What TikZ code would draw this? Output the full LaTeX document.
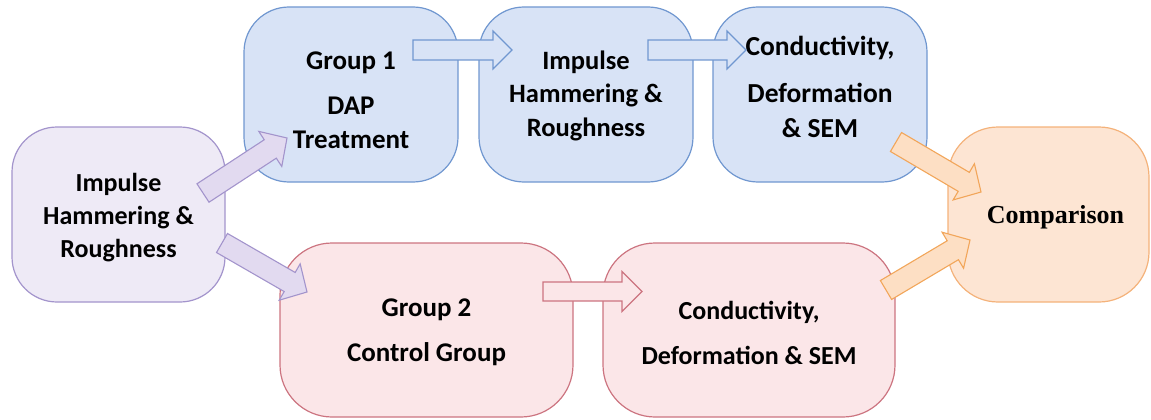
\documentclass[tikz,border=0pt]{standalone}
\usepackage{fontspec}
\setmainfont{Carlito}
\newfontfamily\timesfont{Liberation Serif}
\usetikzlibrary{calc}
\definecolor{purfill}{HTML}{EEEAF6}
\definecolor{purline}{HTML}{A394CC}
\definecolor{purarrow}{HTML}{E2DAF0}
\definecolor{bluefill}{HTML}{D8E3F6}
\definecolor{blueline}{HTML}{7097D0}
\definecolor{pinkfill}{HTML}{FBE6E8}
\definecolor{pinkline}{HTML}{CC7480}
\definecolor{orfill}{HTML}{FDE5D3}
\definecolor{orline}{HTML}{F4B27A}
\definecolor{orarrow}{HTML}{FDDFC4}
\definecolor{orarrowline}{HTML}{F2A65A}
\newcommand\barrow[6]{%
 \coordinate (hb) at ($(#3)!#6!(#2)$);
 \draw[#1] ($(#2)!#4!90:(#3)$) -- ($(hb)!#4!-90:(#2)$) -- ($(hb)!#5!-90:(#2)$) -- (#3)
   -- ($(hb)!#5!90:(#2)$) -- ($(hb)!#4!90:(#2)$) -- ($(#2)!#4!-90:(#3)$) -- cycle;}
\tikzset{
  box/.style={rounded corners=45pt, line width=1.2pt, minimum height=175pt, inner sep=0pt},
  purbox/.style={box, fill=purfill, draw=purline},
  bluebox/.style={box, fill=bluefill, draw=blueline},
  pinkbox/.style={box, fill=pinkfill, draw=pinkline, rounded corners=52pt},
  orbox/.style={box, fill=orfill, draw=orline, rounded corners=50pt},
  txt/.style={align=center, inner sep=0pt, font=\fontsize{26}{33}\selectfont\bfseries},
  purarr/.style={fill=purarrow, draw=purline, line width=1.1pt, line join=miter},
  bluearr/.style={fill=bluefill, draw=blueline, line width=1.1pt, line join=miter},
  pinkarr/.style={fill=pinkfill, draw=pinkline, line width=1.1pt, line join=miter},
  orarr/.style={fill=orarrow, draw=orarrowline, line width=1.1pt, line join=miter},
}
\begin{document}
\begin{tikzpicture}[x=1pt,y=-1pt]
\useasboundingbox (0,0) rectangle (1151,420);
% boxes
\node[purbox, minimum width=213pt] (L) at (118.5,214.5) {};
\node[bluebox, minimum width=214pt] (B1) at (351,94.5) {};
\node[bluebox, minimum width=214pt] (B2) at (586,94.5) {};
\node[bluebox, minimum width=214pt] (B3) at (820,94.5) {};
\node[orbox, minimum width=201pt] (C) at (1048.5,214.5) {};
\node[pinkbox, minimum width=293pt, minimum height=174pt] (P1) at (426.5,330) {};
\node[pinkbox, minimum width=292pt, minimum height=174pt] (P2) at (749,330) {};
% texts
\node[txt, font=\fontsize{26}{33}\selectfont\bfseries] (Lt) at ($(L)+(0,3)$) {Impulse\\Hammering \&\\Roughness};
\node[txt, font=\fontsize{27}{34}\selectfont\bfseries] (B1t) at ($(B1)+(0,6)$) {Group 1\\[11pt]DAP\\Treatment};
\node[txt, font=\fontsize{26.5}{33.5}\selectfont\bfseries] (B2t) at ($(B2)+(0,1)$) {Impulse\\Hammering \&\\Roughness};
\node[txt, font=\fontsize{27.5}{35}\selectfont\bfseries] (B3t) at ($(B3)+(0,-8)$) {Conductivity,\\[12pt]Deformation\\\& SEM};
\node[txt, font=\fontsize{26}{33}\selectfont\timesfont\bfseries] (Ct) at ($(C)+(7,3)$) {Comparison};
\node[txt, font=\fontsize{27}{34}\selectfont\bfseries] (P1t) at ($(P1)+(0,2.5)$) {Group 2\\[11pt]Control Group};
\node[txt, font=\fontsize{26}{33}\selectfont\bfseries] (P2t) at ($(P2)+(0,2.5)$) {Conductivity,\\[12pt]Deformation \& SEM};
% arrow end points
\coordinate (a1s) at (413,50);  \coordinate (a1e) at (512,50);
\coordinate (a2s) at (648,50);  \coordinate (a2e) at (746,50);
\coordinate (a3s) at (543,291.5); \coordinate (a3e) at (642,291.5);
\coordinate (u1s) at (203,193); \coordinate (u1e) at (287,138);
\coordinate (d1s) at (222,243); \coordinate (d1e) at (307,292);
\coordinate (o1s) at (896,142); \coordinate (o1e) at (981,192);
\coordinate (o2s) at (886,290); \coordinate (o2e) at (970,240);
% block arrows
\barrow{bluearr}{a1s}{a1e}{10pt}{19pt}{19pt}
\barrow{bluearr}{a2s}{a2e}{10pt}{19pt}{19pt}
\barrow{pinkarr}{a3s}{a3e}{9.5pt}{20pt}{20pt}
\barrow{purarr}{u1s}{u1e}{11pt}{21pt}{20pt}
\barrow{purarr}{d1s}{d1e}{11pt}{21pt}{20pt}
\barrow{orarr}{o1s}{o1e}{11pt}{21pt}{20pt}
\barrow{orarr}{o2s}{o2e}{11pt}{21pt}{20pt}
\end{tikzpicture}
\end{document}
